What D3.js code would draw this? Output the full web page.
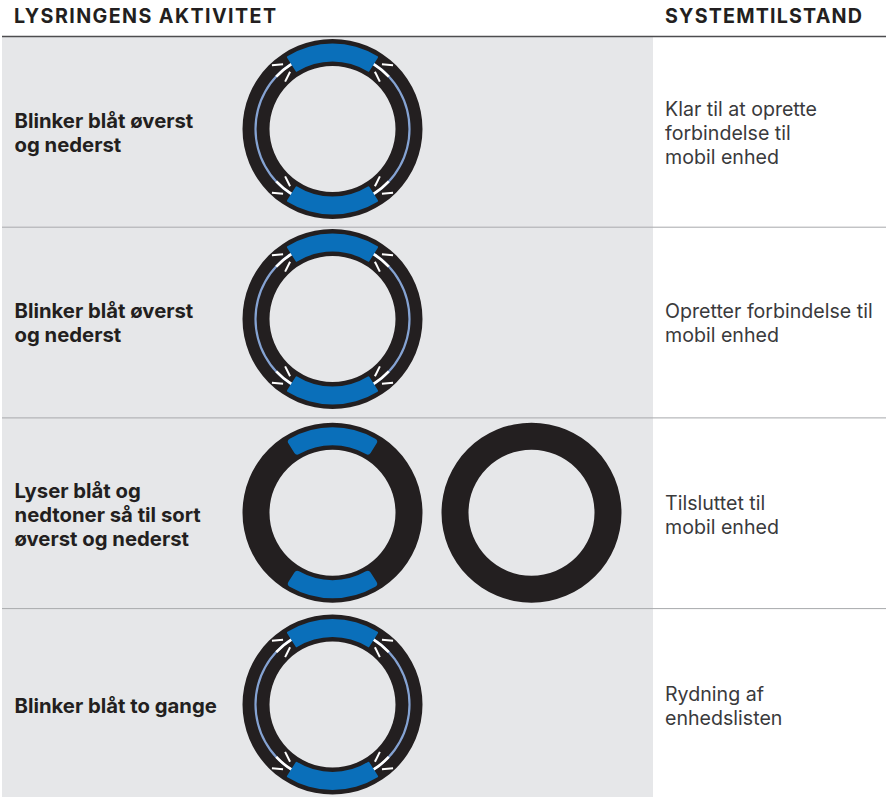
<!DOCTYPE html>
<html>
    <head>
        <meta charset="UTF-8"/>
        <style>
            html, body { margin: 0; padding: 0; background: #fff; }
            svg { display: block; }
        </style>
    </head>
    <body>
        <svg width="887" height="797"></svg>
        <script src="https://d3js.org/d3.v7.min.js" type="text/javascript"></script>
        <script>
            let headers = ["LYSRINGENS AKTIVITET", "SYSTEMTILSTAND"];
            let activity = [
                ["Blinker blåt øverst", "og nederst"],
                ["Blinker blåt øverst", "og nederst"],
                ["Lyser blåt og", "nedtoner så til sort", "øverst og nederst"],
                ["Blinker blåt to gange"]
            ];
            let state = [
                ["Klar til at oprette", "forbindelse til", "mobil enhed"],
                ["Opretter forbindelse til", "mobil enhed"],
                ["Tilsluttet til", "mobil enhed"],
                ["Rydning af", "enhedslisten"]
            ];
            // rings drawn per row: "blink", "steady" or "off"
            let rings = [["blink"], ["blink"], ["steady", "off"], ["blink"]];

            let svg = d3.select("svg");
            let font = "Inter, 'Noto Sans', sans-serif";

            let y = d3.scaleLinear().domain([0, 4]).range([36.5, 799.3]);
            let ringX = d3.scaleLinear().domain([0, 1]).range([332.5, 531.5]);
            let deg = d3.scaleLinear().domain([0, 360]).range([0, 2 * Math.PI]);

            let outer = 90, inner = 63;

            let arc = d3.arc().cornerRadius(d => d.corner || 0);

            // column heads
            svg.selectAll("text.head")
                .data(headers)
                .enter()
                .append("text")
                .attr("class", "head")
                .attr("x", (d, i) => i ? 665 : 14)
                .attr("y", 23)
                .attr("font-family", font)
                .attr("font-size", 19.7)
                .attr("font-weight", 700)
                .attr("letter-spacing", (d, i) => i ? 1.18 : 1.4)
                .attr("fill", "#231f20")
                .text(d => d);

            svg.selectAll("rect.band")
                .data(activity)
                .enter()
                .append("rect")
                .attr("class", "band")
                .attr("x", 2)
                .attr("y", (d, i) => y(i))
                .attr("width", 651)
                .attr("height", (d, i) => y(i + 1) - y(i))
                .attr("fill", "#e6e7e9");

            svg.selectAll("line.rule")
                .data(d3.range(0, 4))
                .enter()
                .append("line")
                .attr("class", "rule")
                .attr("x1", 2)
                .attr("x2", 886)
                .attr("y1", d => y(d))
                .attr("y2", d => y(d))
                .attr("stroke", d => d ? "#a7a9ac" : "#4d4d4f")
                .attr("stroke-width", d => d ? 1 : 1.5);

            function textBlock(lines, x, cy, weight, size, lh, color) {
                let top = cy - (lines.length - 1) * lh / 2;
                svg.append("g")
                    .selectAll("text")
                    .data(lines)
                    .enter()
                    .append("text")
                    .attr("x", x)
                    .attr("y", (d, i) => top + i * lh)
                    .attr("dy", "0.35em")
                    .attr("font-family", font)
                    .attr("font-size", size)
                    .attr("font-weight", weight)
                    .attr("fill", color)
                    .text(d => d);
            }

            let activityMid = [133, 322.8, 514.8, 705.7];
            let stateMid = [133, 322.8, 514.8, 705.7];
            activity.forEach((lines, i) => {
                textBlock(lines, 14.5, activityMid[i], 700, 20.3, 24, "#231f20");
            });
            state.forEach((lines, i) => {
                textBlock(lines, 665, stateMid[i], 400, 19.6, 24, "#3a3a3c");
            });

            // flashes for one quadrant, each [angle, radius, angle, radius]
            let flashes = [[43.5, 88, 37.4, 81.4], [45, 67, 36.5, 71.3]];

            function drawRing(kind, cx, cy) {
                let g = svg.append("g").attr("transform", `translate(${cx},${cy})`);

                g.append("path")
                    .attr("d", arc({innerRadius: inner, outerRadius: outer, startAngle: 0, endAngle: 2 * Math.PI}))
                    .attr("fill", "#231f20");

                if (kind == "off") return;

                // the thin light line and the flashes only show on the blinking rings
                if (kind == "blink") {
                    [[32, 148], [212, 328]].forEach(s => {
                        g.append("path")
                            .attr("d", arc({innerRadius: 75.9, outerRadius: 78.1, startAngle: deg(s[0]), endAngle: deg(s[1])}))
                            .attr("fill", "#85a3d3");
                    });
                    [[32, 47], [133, 148], [212, 227], [313, 328]].forEach(s => {
                        g.append("path")
                            .attr("d", arc({innerRadius: 75.6, outerRadius: 78.2, startAngle: deg(s[0]), endAngle: deg(s[1])}))
                            .attr("fill", "#fff");
                    });
                    [[1, 1], [-1, 1], [1, -1], [-1, -1]].forEach(q => {
                        flashes.forEach(f => {
                            g.append("line")
                                .attr("x1", q[0] * f[1] * Math.sin(deg(f[0])))
                                .attr("y1", -q[1] * f[1] * Math.cos(deg(f[0])))
                                .attr("x2", q[0] * f[3] * Math.sin(deg(f[2])))
                                .attr("y2", -q[1] * f[3] * Math.cos(deg(f[2])))
                                .attr("stroke", "#fff")
                                .attr("stroke-width", 2);
                        });
                    });
                }

                [0, 180].forEach(a => {
                    g.append("path")
                        .attr("d", arc({
                            innerRadius: 67.5,
                            outerRadius: 85.5,
                            startAngle: deg(a - 32.5),
                            endAngle: deg(a + 32.5),
                            corner: kind == "steady" ? 3.5 : 1
                        }))
                        .attr("fill", "#0a6fba");
                });
            }

            let ringY = [129, 319, 512.7, 704.5];
            rings.forEach((row, i) => {
                row.forEach((kind, j) => drawRing(kind, ringX(j), ringY[i]));
            });
        </script>
    </body>
</html>
